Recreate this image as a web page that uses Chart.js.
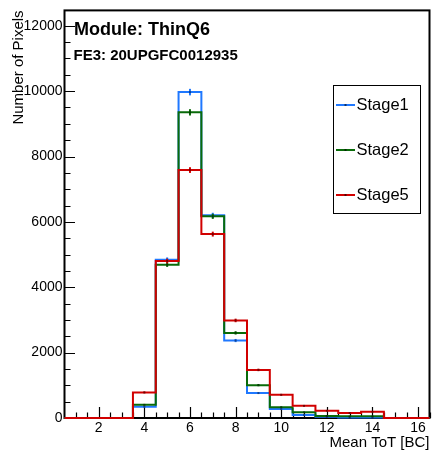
<!DOCTYPE html>
<html>
<head>
<meta charset="utf-8">
<script src="https://cdn.jsdelivr.net/npm/chart.js@4.4.1/dist/chart.umd.min.js"></script>
<style>
  html, body { margin: 0; padding: 0; background: #fff; }
  canvas { display: block; }
</style>
</head>
<body>
<canvas id="totChart" width="434" height="455"></canvas>
<script>
// Mean ToT histogram, one entry per bin (bin width 1 BC)
const binCenters = [1, 2, 3, 4, 5, 6, 7, 8, 9, 10, 11, 12, 13, 14, 15, 16];
const stage1 = [0, 0, 0, 344, 4843, 9970, 6200, 2370, 762, 272, 91, 40, 15, 18, 0, 0];
const stage2 = [0, 0, 0, 405, 4691, 9351, 6170, 2604, 1005, 330, 174, 61, 50, 55, 0, 0];
const stage5 = [0, 0, 0, 783, 4803, 7585, 5626, 2985, 1471, 710, 372, 222, 152, 190, 0, 0];
const seriesNames = ["Stage1", "Stage2", "Stage5"];
const xTicks = [2, 4, 6, 8, 10, 12, 14, 16];
const yTicks = [0, 2000, 4000, 6000, 8000, 10000, 12000];

const FONT = '"Liberation Sans", Arial, Helvetica, sans-serif';
Chart.defaults.font.family = FONT;
Chart.defaults.color = "#000";

// step histogram: one point per lower bin edge plus the last upper edge
function histPoints(vals) {
  const pts = binCenters.map((c, i) => ({ x: c - 0.5, y: vals[i] }));
  const last = binCenters.length - 1;
  pts.push({ x: binCenters[last] + 0.5, y: vals[last] });
  return pts;
}

function histDataset(label, vals, color, order) {
  return {
    label: label,
    data: histPoints(vals),
    values: vals,
    borderColor: color,
    borderWidth: 2,
    pointRadius: 0,
    stepped: "before",
    fill: false,
    clip: false,
    order: order,
    borderJoinStyle: "miter",
  };
}

// frame + inside ticks under the histograms, error bars / legend / labels on top
const rootStyle = {
  id: "rootStyle",
  beforeDatasetsDraw(chart) {
    const { ctx, chartArea: a, scales: { x, y } } = chart;
    ctx.save();
    ctx.strokeStyle = "#000";

    // inside ticks on x
    ctx.lineWidth = 1.2;
    ctx.beginPath();
    for (let v = 1; v <= x.max; v += 0.5) {
      const px = Math.round(x.getPixelForValue(v)) + 0.5;
      const len = xTicks.includes(v) ? 11 : 5.5;
      ctx.moveTo(px, a.bottom);
      ctx.lineTo(px, a.bottom - len);
    }
    // inside ticks on y
    for (let v = 0; v <= y.max; v += 500) {
      const py = Math.round(y.getPixelForValue(v)) + 0.5;
      const len = yTicks.includes(v) ? 10.5 : 6;
      ctx.moveTo(a.left, py);
      ctx.lineTo(a.left + len, py);
    }
    ctx.stroke();

    // frame
    ctx.lineWidth = 2;
    ctx.strokeRect(a.left, a.top, a.right - a.left, a.bottom - a.top);
    ctx.restore();
  },
  afterDatasetsDraw(chart) {
    const { ctx, scales: { x, y } } = chart;
    ctx.save();
    chart.data.datasets.forEach((ds) => {
      ds.values.forEach((v, i) => {
        if (v <= 0) return;
        const px = x.getPixelForValue(binCenters[i]);
        const err = Math.sqrt(v);
        ctx.strokeStyle = ds.borderColor;
        ctx.lineWidth = 2;
        ctx.beginPath();
        ctx.moveTo(px, y.getPixelForValue(v - err));
        ctx.lineTo(px, y.getPixelForValue(v + err));
        ctx.stroke();
        ctx.fillStyle = "rgba(0,0,0,0.45)";
        ctx.fillRect(px - 1, y.getPixelForValue(v) - 1, 2, 2);
      });
    });
    ctx.restore();
  },
  afterDraw(chart) {
    const { ctx } = chart;
    ctx.save();

    // module text
    ctx.fillStyle = "#000";
    ctx.textAlign = "left";
    ctx.textBaseline = "alphabetic";
    ctx.font = "bold 18px " + FONT;
    ctx.fillText("Module: ThinQ6", 74, 35);
    ctx.font = "bold 15px " + FONT;
    ctx.fillText("FE3: 20UPGFC0012935", 73.5, 60);

    // legend
    ctx.fillStyle = "#fff";
    ctx.fillRect(333, 85, 87, 128);
    ctx.lineWidth = 1;
    ctx.strokeStyle = "#000";
    ctx.strokeRect(333.5, 85.5, 87, 128);
    ctx.font = "16.5px " + FONT;
    ctx.textBaseline = "middle";
    chart.data.datasets.forEach((ds, i) => {
      const ly = 105 + i * 45;
      ctx.strokeStyle = ds.borderColor;
      ctx.lineWidth = 2;
      ctx.beginPath();
      ctx.moveTo(336, ly);
      ctx.lineTo(355, ly);
      ctx.stroke();
      ctx.fillStyle = "rgba(0,0,0,0.6)";
      ctx.fillRect(344.5, ly - 1, 2, 2);
      ctx.fillStyle = "#000";
      ctx.fillText(ds.label, 356.5, ly + 0.5);
    });
    ctx.restore();
  },
};

new Chart(document.getElementById("totChart"), {
  type: "line",
  data: {
    datasets: [
      histDataset(seriesNames[0], stage1, "#1f78ff", 3),
      histDataset(seriesNames[1], stage2, "#096b09", 2),
      histDataset(seriesNames[2], stage5, "#d10000", 1),
    ],
  },
  options: {
    responsive: false,
    animation: false,
    devicePixelRatio: 1,
    layout: { padding: { top: 9, right: 4.5, bottom: 0, left: 0 } },
    plugins: {
      legend: { display: false },
      tooltip: { enabled: false },
    },
    scales: {
      x: {
        type: "linear",
        position: "bottom",
        min: 0.5,
        max: 16.5,
        afterBuildTicks: (scale) => {
          scale.ticks = xTicks.map((v) => ({ value: v }));
        },
        afterFit: (scale) => {
          scale.height = 37;
        },
        grid: { display: false, drawTicks: false },
        border: { display: false },
        ticks: {
          autoSkip: false,
          maxRotation: 0,
          padding: 2,
          font: { size: 14 },
          color: "#000",
          callback: (v) => String(v),
        },
        title: {
          display: true,
          text: "Mean ToT [BC]",
          align: "end",
          font: { size: 15 },
          color: "#000",
          padding: { top: 0, bottom: 3 },
        },
      },
      y: {
        type: "linear",
        min: 0,
        max: 12470,
        afterBuildTicks: (scale) => {
          scale.ticks = yTicks.map((v) => ({ value: v }));
        },
        afterFit: (scale) => {
          scale.width = 64.5;
        },
        grid: { display: false, drawTicks: false },
        border: { display: false },
        ticks: {
          autoSkip: false,
          padding: 2,
          font: { size: 14 },
          color: "#000",
          callback: (v) => String(v),
        },
        title: {
          display: true,
          text: "Number of Pixels",
          align: "end",
          font: { size: 15 },
          color: "#000",
          padding: { top: 10, bottom: 0 },
        },
      },
    },
  },
  plugins: [rootStyle],
});
</script>
</body>
</html>
